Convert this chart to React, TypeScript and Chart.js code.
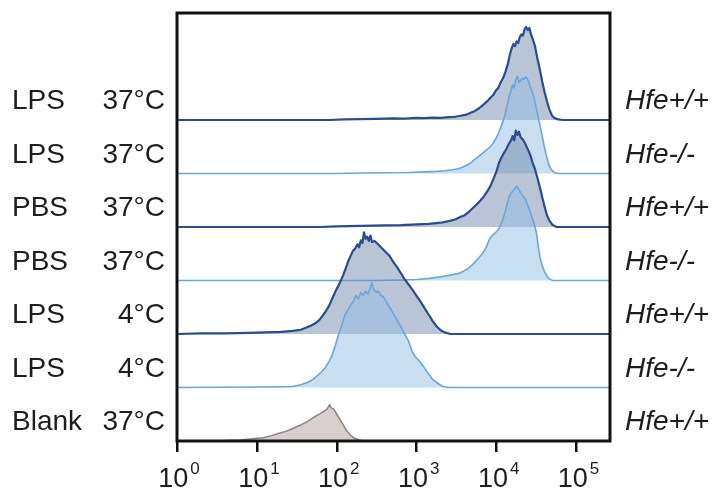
import React, { useEffect, useRef } from "react";
import { Chart, registerables } from "chart.js";

Chart.register(...registerables);

// Row order: top to bottom
const conditions = ["LPS", "LPS", "PBS", "PBS", "LPS", "LPS", "Blank"];
const temperatures = ["37°C", "37°C", "37°C", "37°C", "4°C", "4°C", "37°C"];
const genotypes = ["Hfe+/+", "Hfe-/-", "Hfe+/+", "Hfe-/-", "Hfe+/+", "Hfe-/-", "Hfe+/+"];
const baselines = [6, 5, 4, 3, 2, 1, 0];
const tickExponents = [0, 1, 2, 3, 4, 5];
const xMin = 1;
const xMax = 262144;

// Fluorescence intensity (log10) and relative counts for each histogram
const lps37WtExp = [0, 1.9, 2.1, 2.3, 2.5, 2.7, 2.85, 3.0, 3.1, 3.2, 3.3, 3.4, 3.48, 3.55, 3.62, 3.68, 3.73, 3.78, 3.82, 3.86, 3.9, 3.93, 3.96, 3.99, 4.02, 4.05, 4.08, 4.11, 4.14, 4.17, 4.19, 4.21, 4.23, 4.25, 4.27, 4.29, 4.31, 4.33, 4.35, 4.37, 4.39, 4.41, 4.43, 4.45, 4.48, 4.51, 4.54, 4.57, 4.6, 4.63, 4.66, 4.69, 4.72, 4.77, 4.83, 5.42];
const lps37WtCnt = [0, 0, 0.01, 0.015, 0.02, 0.03, 0.025, 0.04, 0.035, 0.045, 0.04, 0.055, 0.06, 0.08, 0.1, 0.14, 0.17, 0.22, 0.27, 0.32, 0.38, 0.43, 0.47, 0.55, 0.6, 0.7, 0.78, 0.9, 1.05, 1.25, 1.35, 1.42, 1.38, 1.47, 1.44, 1.55, 1.6, 1.58, 1.7, 1.74, 1.68, 1.72, 1.6, 1.52, 1.38, 1.15, 0.95, 0.72, 0.52, 0.35, 0.2, 0.09, 0.04, 0.01, 0, 0];

const lps37KoExp = [0, 2.0, 2.3, 2.6, 2.9, 3.1, 3.25, 3.35, 3.45, 3.52, 3.58, 3.63, 3.68, 3.72, 3.76, 3.8, 3.84, 3.88, 3.92, 3.96, 4.0, 4.03, 4.06, 4.09, 4.12, 4.15, 4.18, 4.2, 4.22, 4.24, 4.26, 4.28, 4.3, 4.32, 4.34, 4.36, 4.38, 4.4, 4.42, 4.44, 4.47, 4.5, 4.53, 4.56, 4.59, 4.62, 4.65, 4.68, 4.72, 4.77, 5.42];
const lps37KoCnt = [0, 0, 0.01, 0.015, 0.02, 0.03, 0.04, 0.05, 0.07, 0.09, 0.12, 0.16, 0.2, 0.26, 0.3, 0.35, 0.4, 0.45, 0.5, 0.58, 0.68, 0.78, 0.9, 1.02, 1.2, 1.4, 1.55, 1.66, 1.6, 1.75, 1.82, 1.7, 1.74, 1.78, 1.76, 1.8, 1.78, 1.72, 1.62, 1.55, 1.4, 1.2, 0.98, 0.78, 0.55, 0.35, 0.18, 0.08, 0.02, 0, 0];

const pbs37WtExp = [0, 1.79, 2.0, 2.3, 2.6, 2.8, 3.0, 3.15, 3.3, 3.4, 3.48, 3.55, 3.6, 3.65, 3.7, 3.75, 3.8, 3.84, 3.88, 3.92, 3.96, 4.0, 4.03, 4.06, 4.09, 4.12, 4.15, 4.18, 4.2, 4.22, 4.24, 4.26, 4.28, 4.3, 4.33, 4.36, 4.39, 4.42, 4.45, 4.48, 4.51, 4.54, 4.57, 4.6, 4.63, 4.66, 4.7, 4.75, 5.42];
const pbs37WtCnt = [0, 0, 0.01, 0.02, 0.03, 0.035, 0.05, 0.06, 0.08, 0.11, 0.14, 0.19, 0.22, 0.28, 0.35, 0.42, 0.5, 0.57, 0.66, 0.76, 0.9, 1.05, 1.2, 1.3, 1.38, 1.45, 1.55, 1.62, 1.7, 1.62, 1.8, 1.72, 1.78, 1.68, 1.63, 1.55, 1.45, 1.35, 1.2, 1.08, 0.92, 0.75, 0.56, 0.38, 0.22, 0.12, 0.04, 0, 0];

const pbs37KoExp = [0, 2.5, 2.8, 3.0, 3.15, 3.3, 3.42, 3.52, 3.58, 3.64, 3.7, 3.75, 3.79, 3.83, 3.87, 3.91, 3.95, 3.99, 4.03, 4.07, 4.1, 4.13, 4.16, 4.19, 4.22, 4.25, 4.27, 4.3, 4.33, 4.36, 4.39, 4.42, 4.45, 4.48, 4.5, 4.52, 4.54, 4.57, 4.6, 4.63, 4.66, 4.7, 5.42];
const pbs37KoCnt = [0, 0, 0.01, 0.02, 0.04, 0.07, 0.1, 0.13, 0.17, 0.22, 0.3, 0.38, 0.45, 0.52, 0.62, 0.77, 0.85, 0.9, 0.97, 1.1, 1.25, 1.42, 1.58, 1.65, 1.7, 1.76, 1.72, 1.64, 1.58, 1.52, 1.4, 1.28, 1.14, 1.0, 0.88, 0.65, 0.45, 0.28, 0.16, 0.08, 0.03, 0, 0];

const lps4WtExp = [0, 0.3, 0.6, 0.9, 1.1, 1.3, 1.45, 1.55, 1.62, 1.68, 1.73, 1.78, 1.82, 1.86, 1.9, 1.93, 1.96, 1.99, 2.02, 2.05, 2.08, 2.11, 2.14, 2.17, 2.2, 2.23, 2.26, 2.28, 2.3, 2.32, 2.34, 2.36, 2.38, 2.4, 2.42, 2.44, 2.47, 2.5, 2.54, 2.58, 2.62, 2.66, 2.7, 2.75, 2.8, 2.85, 2.9, 2.95, 3.0, 3.05, 3.1, 3.15, 3.2, 3.25, 3.3, 3.35, 3.42, 5.42];
const lps4WtCnt = [0, 0.01, 0.01, 0.02, 0.03, 0.04, 0.06, 0.08, 0.12, 0.16, 0.2, 0.26, 0.34, 0.42, 0.52, 0.62, 0.72, 0.82, 0.9, 1.0, 1.1, 1.22, 1.35, 1.45, 1.55, 1.6, 1.68, 1.62, 1.75, 1.7, 1.9, 1.78, 1.82, 1.74, 1.84, 1.72, 1.74, 1.7, 1.64, 1.58, 1.52, 1.46, 1.36, 1.26, 1.14, 1.02, 0.92, 0.82, 0.71, 0.6, 0.48, 0.36, 0.24, 0.14, 0.07, 0.03, 0, 0];

const lps4KoExp = [0, 0.5, 1.0, 1.3, 1.45, 1.55, 1.62, 1.68, 1.74, 1.8, 1.85, 1.9, 1.94, 1.98, 2.02, 2.06, 2.1, 2.14, 2.18, 2.21, 2.24, 2.27, 2.3, 2.33, 2.36, 2.39, 2.42, 2.44, 2.46, 2.49, 2.52, 2.55, 2.58, 2.62, 2.66, 2.7, 2.75, 2.8, 2.85, 2.9, 2.94, 2.98, 3.03, 3.08, 3.14, 3.2, 3.27, 3.33, 3.4, 5.42];
const lps4KoCnt = [0, 0.005, 0.01, 0.015, 0.02, 0.05, 0.09, 0.13, 0.2, 0.28, 0.36, 0.48, 0.6, 0.78, 0.98, 1.15, 1.35, 1.45, 1.55, 1.62, 1.72, 1.66, 1.78, 1.72, 1.8, 1.75, 1.88, 1.96, 1.84, 1.78, 1.8, 1.72, 1.7, 1.6, 1.5, 1.4, 1.27, 1.14, 1.0, 0.86, 0.68, 0.58, 0.5, 0.4, 0.27, 0.15, 0.07, 0.02, 0, 0];

const blankExp = [0, 0.3, 0.6, 0.8, 0.95, 1.08, 1.18, 1.29, 1.36, 1.43, 1.5, 1.55, 1.6, 1.65, 1.7, 1.74, 1.78, 1.82, 1.85, 1.88, 1.91, 1.93, 1.96, 2.0, 2.04, 2.08, 2.12, 2.17, 2.22, 2.28, 2.34, 5.42];
const blankCnt = [0, 0.005, 0.01, 0.02, 0.04, 0.06, 0.1, 0.15, 0.18, 0.22, 0.27, 0.3, 0.34, 0.38, 0.43, 0.47, 0.5, 0.54, 0.57, 0.6, 0.68, 0.62, 0.6, 0.5, 0.4, 0.3, 0.2, 0.11, 0.05, 0.02, 0, 0];

const seriesExp = [lps37WtExp, lps37KoExp, pbs37WtExp, pbs37KoExp, lps4WtExp, lps4KoExp, blankExp];
const seriesCnt = [lps37WtCnt, lps37KoCnt, pbs37WtCnt, pbs37KoCnt, lps4WtCnt, lps4KoCnt, blankCnt];

const DARK_LINE = "#2c4c8a";
const DARK_FILL = "rgba(115,140,175,0.5)";
const LIGHT_LINE = "#6ca6d9";
const LIGHT_FILL = "rgba(145,190,228,0.5)";
const GRAY_LINE = "#8c8282";
const GRAY_FILL = "rgba(175,162,158,0.5)";

const FONT = '"Liberation Sans", Arial, Helvetica, sans-serif';
const TEXT_COLOR = "#1d1d1d";

function styleFor(i: number) {
  if (conditions[i] === "Blank") return { line: GRAY_LINE, fill: GRAY_FILL, width: 1.5 };
  if (genotypes[i] === "Hfe+/+") return { line: DARK_LINE, fill: DARK_FILL, width: 2.2 };
  return { line: LIGHT_LINE, fill: LIGHT_FILL, width: 1.6 };
}

const decorPlugin = {
  id: "decor",
  afterDraw(chart: any) {
    const { ctx, chartArea, scales } = chart;
    const xs = scales.x;
    const ys = scales.y;
    ctx.save();
    // frame
    ctx.strokeStyle = "#111";
    ctx.lineWidth = 3;
    ctx.strokeRect(chartArea.left, chartArea.top, chartArea.right - chartArea.left, chartArea.bottom - chartArea.top);

    // tick labels 10^n
    ctx.fillStyle = TEXT_COLOR;
    ctx.textBaseline = "alphabetic";
    ctx.textAlign = "left";
    for (const e of tickExponents) {
      const x = xs.getPixelForValue(Math.pow(10, e));
      ctx.font = `27px ${FONT}`;
      const wBase = ctx.measureText("10").width;
      ctx.font = `17px ${FONT}`;
      const sup = String(e);
      const wSup = ctx.measureText(sup).width;
      const total = wBase + 2 + wSup;
      const start = x - total / 2 + 2;
      ctx.font = `27px ${FONT}`;
      ctx.fillText("10", start, chartArea.bottom + 46);
      ctx.font = `17px ${FONT}`;
      ctx.fillText(sup, start + wBase + 2, chartArea.bottom + 33);
    }

    // row labels
    for (let i = 0; i < baselines.length; i++) {
      const y = ys.getPixelForValue(baselines[i]) - 11;
      ctx.font = `28px ${FONT}`;
      ctx.textAlign = "left";
      ctx.fillText(conditions[i], 12, y);
      ctx.textAlign = "right";
      ctx.fillText(temperatures[i], 165, y);
      ctx.font = `italic 28px ${FONT}`;
      ctx.textAlign = "left";
      ctx.fillText(genotypes[i], chartArea.right + 15, y);
    }
    ctx.restore();
  },
};

export default function App() {
  const ref = useRef<HTMLCanvasElement | null>(null);

  useEffect(() => {
    if (!ref.current) return;
    const datasets = seriesExp.map((exps, i) => {
      const st = styleFor(i);
      return {
        label: `${conditions[i]} ${temperatures[i]} ${genotypes[i]}`,
        data: exps.map((e, j) => ({ x: Math.pow(10, e), y: baselines[i] + seriesCnt[i][j] })),
        borderColor: st.line,
        backgroundColor: st.fill,
        borderWidth: st.width,
        borderJoinStyle: "round" as const,
        pointRadius: 0,
        tension: 0,
        fill: { value: baselines[i] },
        order: -i,
      };
    });

    const chart = new Chart(ref.current, {
      type: "line",
      data: { datasets },
      options: {
        animation: false,
        responsive: false,
        layout: { padding: { left: 177, right: 112, top: 13, bottom: 0 } },
        plugins: { legend: { display: false }, tooltip: { enabled: false } },
        scales: {
          x: {
            type: "logarithmic",
            min: xMin,
            max: xMax,
            afterBuildTicks: (scale: any) => {
              scale.ticks = tickExponents.map((e) => ({ value: Math.pow(10, e) }));
            },
            afterFit: (scale: any) => {
              scale.height = 56;
            },
            border: { display: false },
            grid: {
              display: true,
              drawOnChartArea: false,
              drawTicks: true,
              tickLength: 11,
              color: "#111",
              lineWidth: 2.5,
            },
            ticks: { display: false },
          },
          y: {
            type: "linear",
            min: 0,
            max: 8,
            display: false,
          },
        },
      },
      plugins: [decorPlugin],
    });
    return () => chart.destroy();
  }, []);

  return (
    <div style={{ position: "absolute", left: 0, top: 0, width: 722, height: 497, background: "#fff" }}>
      <canvas ref={ref} width={722} height={497} style={{ display: "block" }} />
    </div>
  );
}
